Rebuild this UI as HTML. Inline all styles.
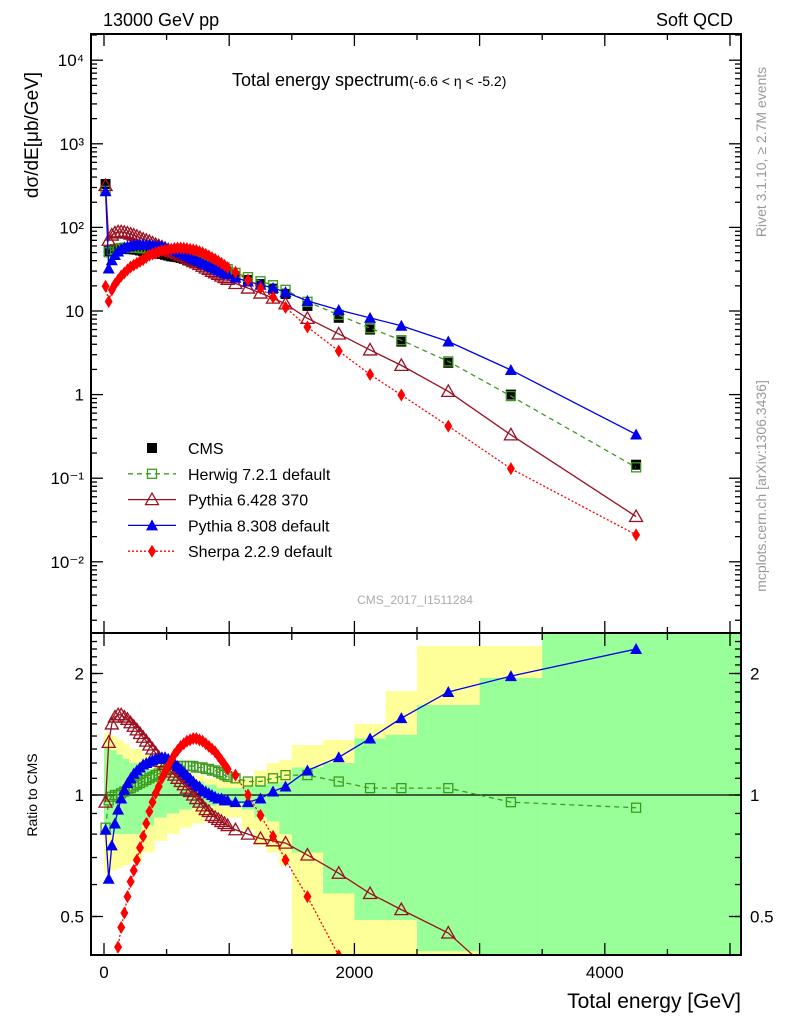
<!DOCTYPE html>
<html><head><meta charset="utf-8"><style>
html,body{margin:0;padding:0;background:#fff;overflow:hidden;width:786px;height:1024px;}
svg{display:block;font-family:"Liberation Sans",Arial,sans-serif;}
</style></head><body>
<svg id="chart" width="786" height="1024" viewBox="0 0 786 1024" xmlns="http://www.w3.org/2000/svg">
<defs>
<clipPath id="clipTop"><rect x="91" y="34" width="650" height="599"/></clipPath>
<clipPath id="clipRat"><rect x="91" y="634" width="650" height="321"/></clipPath>
</defs>
<g id="bands" clip-path="url(#clipRat)"></g>
<g id="topMarks" clip-path="url(#clipTop)"></g>
<g id="ratMarks" clip-path="url(#clipRat)"></g>
<g id="axes"></g>
<text x="103" y="26" font-size="18">13000 GeV pp</text>
<text x="733" y="26" font-size="18" text-anchor="end">Soft QCD</text>
<text x="232" y="86" font-size="18">Total energy spectrum<tspan font-size="14">(-6.6 &lt; η &lt; -5.2)</tspan></text>
<text transform="translate(38,135) rotate(-90)" font-size="19" text-anchor="middle">dσ/dE[μb/GeV]</text>
<text transform="translate(37,795) rotate(-90)" font-size="14" text-anchor="middle">Ratio to CMS</text>
<text x="741" y="1008" font-size="21" text-anchor="end">Total energy [GeV]</text>
<text transform="translate(766,152) rotate(-90)" font-size="14" fill="#999" text-anchor="middle">Rivet 3.1.10, ≥ 2.7M events</text>
<text transform="translate(766,486) rotate(-90)" font-size="14" fill="#999" text-anchor="middle">mcplots.cern.ch [arXiv:1306.3436]</text>
<text x="415" y="604" font-size="12" fill="#aaa" text-anchor="middle">CMS_2017_I1511284</text>
<g id="legend"></g>
</svg>
<script>
const energies = [12.5,37.5,62.5,87.5,112.5,137.5,162.5,187.5,212.5,237.5,262.5,287.5,312.5,337.5,362.5,387.5,412.5,437.5,462.5,487.5,512.5,537.5,562.5,587.5,612.5,637.5,662.5,687.5,712.5,737.5,762.5,787.5,812.5,837.5,862.5,887.5,912.5,937.5,962.5,987.5,1050,1150,1250,1350,1450,1625,1875,2125,2375,2750,3250,4250];
const cmsValues = [330,52,54,55,56,56,56,55.5,55,54.5,54,53,52,51.5,51,50,49,48.5,48,47,46,45,44.5,44,43,42,41,40,39,38.5,37.5,36.5,35.5,34.5,33.5,32.5,31.5,30.5,29.5,28.5,26,23.5,21,18.5,16,11.5,8.3,6.0,4.3,2.4,1.0,0.145];
const herwigRatio = [0.83,0.97,0.99,1.0,1.0,1.01,1.02,1.03,1.04,1.05,1.06,1.07,1.08,1.09,1.10,1.11,1.12,1.13,1.14,1.15,1.16,1.17,1.17,1.18,1.18,1.18,1.18,1.18,1.18,1.17,1.17,1.17,1.16,1.16,1.15,1.15,1.14,1.13,1.12,1.11,1.10,1.08,1.08,1.10,1.12,1.12,1.08,1.04,1.04,1.04,0.96,0.93];
const pythia6Ratio = [0.96,1.35,1.5,1.56,1.58,1.58,1.56,1.54,1.51,1.48,1.45,1.42,1.39,1.36,1.33,1.30,1.27,1.24,1.21,1.19,1.16,1.14,1.12,1.10,1.08,1.06,1.04,1.02,1.0,0.98,0.96,0.94,0.92,0.91,0.89,0.88,0.87,0.86,0.85,0.84,0.82,0.80,0.78,0.77,0.76,0.71,0.64,0.57,0.52,0.455,0.33,0.24];
const pythia8Ratio = [0.82,0.62,0.75,0.85,0.92,0.98,1.03,1.07,1.1,1.13,1.15,1.17,1.19,1.2,1.21,1.22,1.23,1.23,1.24,1.24,1.23,1.22,1.2,1.18,1.16,1.14,1.12,1.10,1.08,1.06,1.05,1.03,1.02,1.01,1.0,0.99,0.98,0.98,0.97,0.97,0.96,0.96,0.98,1.02,1.05,1.15,1.24,1.38,1.55,1.80,1.97,2.30];
const sherpaRatio = [0.06,0.25,0.33,0.38,0.42,0.47,0.51,0.56,0.61,0.65,0.69,0.74,0.79,0.85,0.91,0.96,1.01,1.05,1.10,1.14,1.18,1.22,1.26,1.29,1.32,1.34,1.36,1.37,1.38,1.38,1.37,1.36,1.34,1.32,1.30,1.28,1.25,1.22,1.19,1.16,1.12,1.0,0.89,0.79,0.69,0.56,0.40,0.29,0.23,0.175,0.13,0.145];
const bandEdges = [0,25,50,100,150,200,300,400,500,600,700,800,900,1000,1100,1200,1300,1400,1500,1750,2000,2250,2500,3000,3500,5100];
const yellowLo = [0.64,0.64,0.65,0.66,0.67,0.68,0.72,0.77,0.80,0.83,0.85,0.88,0.88,0.88,0.82,0.75,0.72,0.67,0.3,0.3,0.3,0.3,0.3,0.3,0.3];
const yellowHi = [1.42,1.42,1.40,1.37,1.34,1.30,1.26,1.22,1.18,1.15,1.12,1.10,1.09,1.09,1.10,1.15,1.20,1.22,1.33,1.37,1.5,1.81,2.34,2.34,3];
const greenLo = [0.82,0.82,0.80,0.80,0.80,0.80,0.84,0.88,0.90,0.92,0.93,0.94,0.95,0.95,0.92,0.88,0.86,0.80,0.72,0.57,0.49,0.49,0.41,0.3,0.3];
const greenHi = [1.31,1.31,1.29,1.26,1.23,1.20,1.16,1.12,1.11,1.10,1.08,1.06,1.04,1.04,1.05,1.06,1.07,1.08,1.17,1.2,1.38,1.41,1.67,1.95,3];
const topTickLabels = ["10⁻²","10⁻¹","1","10","10²","10³","10⁴"];
const topTickExps = [-2,-1,0,1,2,3,4];
const ratioTickValues = [0.5,1,2];
const xTickLabels = ["0","2000","4000"];
const xTickValues = [0,2000,4000];

const NS="http://www.w3.org/2000/svg";
function X(e){return 104+e*0.1252;}
function Y(v){return 311-(Math.log10(v)-1)*83.6;}
function R(r){return 795-Math.log2(r)*121.5;}
function mk(tag,attrs,parent){const el=document.createElementNS(NS,tag);for(const k in attrs)el.setAttribute(k,attrs[k]);parent.appendChild(el);return el;}

const bands=document.getElementById('bands');
for(let i=0;i<yellowLo.length;i++){
  const x0=X(bandEdges[i]),x1=X(bandEdges[i+1]);
  const y=mk('rect',{x:x0,y:R(yellowHi[i]),width:x1-x0+0.5,height:R(yellowLo[i])-R(yellowHi[i]),fill:'#ffff99'},bands);
  
  
  const g=mk('rect',{x:x0,y:R(greenHi[i]),width:x1-x0+0.5,height:R(greenLo[i])-R(greenHi[i]),fill:'#99ff99'},bands);
  
  
}

function marker(type,color,x,y,parent){
  let el;
  if(type==='sqf') el=mk('rect',{x:x-5,y:y-5,width:10,height:10,fill:color},parent);
  else if(type==='sqo') el=mk('rect',{x:x-4.5,y:y-4.5,width:9,height:9,fill:'none',stroke:color,'stroke-width':1.3},parent);
  else if(type==='tro') el=mk('polygon',{points:`${x},${y-6.5} ${x-6.5},${y+5} ${x+6.5},${y+5}`,fill:'none',stroke:color,'stroke-width':1.3},parent);
  else if(type==='trf') el=mk('polygon',{points:`${x},${y-6} ${x-6},${y+5} ${x+6},${y+5}`,fill:color},parent);
  else el=mk('polygon',{points:`${x},${y-6.5} ${x-4},${y} ${x},${y+6.5} ${x+4},${y}`,fill:color},parent);
  return el;
}
const series=[
  {name:'herwig',ratio:herwigRatio,color:'#3c9a1c',type:'sqo',dash:'5,4'},
  {name:'pythia6',ratio:pythia6Ratio,color:'#9b1020',type:'tro',dash:''},
  {name:'pythia8',ratio:pythia8Ratio,color:'#0000ee',type:'trf',dash:''},
  {name:'sherpa',ratio:sherpaRatio,color:'#ff0000',type:'dia',dash:'2,2'}
];
const topG=document.getElementById('topMarks'),ratG=document.getElementById('ratMarks');
cmsValues.forEach((v,i)=>{
  const m=marker('sqf','#000',X(energies[i]),Y(v),topG);
  
  
});
mk('line',{x1:91,x2:741,y1:R(1),y2:R(1),stroke:'#000','stroke-width':1.2},ratG);
series.forEach(s=>{
  const topPts=s.ratio.map((r,i)=>X(energies[i])+','+Y(r*cmsValues[i])).join(' ');
  const ratPts=s.ratio.map((r,i)=>X(energies[i])+','+R(r)).join(' ');
  const l1=mk('polyline',{points:topPts,fill:'none',stroke:s.color,'stroke-width':1.3,'stroke-dasharray':s.dash},topG);
  
  
  const l2=mk('polyline',{points:ratPts,fill:'none',stroke:s.color,'stroke-width':1.3,'stroke-dasharray':s.dash},ratG);
  
  
  s.ratio.forEach((r,i)=>{
    const a=marker(s.type,s.color,X(energies[i]),Y(r*cmsValues[i]),topG);
    
    
    const b=marker(s.type,s.color,X(energies[i]),R(r),ratG);
    
    
  });
});

const ax=document.getElementById('axes');
mk('rect',{x:91,y:34,width:650,height:599,fill:'none',stroke:'#000','stroke-width':2},ax);
mk('rect',{x:91,y:633,width:650,height:322,fill:'none',stroke:'#000','stroke-width':2},ax);
function tick(x1,y1,x2,y2){mk('line',{x1,y1,x2,y2,stroke:'#000','stroke-width':1.3},ax);}
topTickExps.forEach((e,i)=>{
  const y=Y(Math.pow(10,e));
  tick(91,y,103,y);tick(741,y,729,y);
  const t=mk('text',{x:84,y:y+6,'font-size':17,'text-anchor':'end'},ax);
  t.textContent=topTickLabels[i];
  
  
});
for(let e=-3;e<=4;e++)for(let k=2;k<=9;k++){
  const y=Y(k*Math.pow(10,e));
  if(y>34&&y<633){tick(91,y,97,y);tick(741,y,735,y);}
}
for(let r=0.4;r<=2.5;r+=0.1){
  const y=R(r);
  if(y>634&&y<955){tick(91,y,97,y);tick(741,y,735,y);}
}
ratioTickValues.forEach(r=>{
  const y=R(r);
  tick(91,y,103,y);tick(741,y,729,y);
  const t=mk('text',{x:84,y:y+6,'font-size':17,'text-anchor':'end'},ax);
  t.textContent=String(r);
  
  
  const t2=mk('text',{x:750,y:y+6,'font-size':17},ax);
  t2.textContent=String(r);
  
  
});
for(let e=0;e<=5000;e+=500){
  const x=X(e),L=(e%1000===0)?12:6;
  tick(x,955,x,955-L);tick(x,633,x,633-L);tick(x,634,x,634+L);tick(x,34,x,34+L);
}
xTickValues.forEach((v,i)=>{
  const t=mk('text',{x:X(v),y:978,'font-size':17,'text-anchor':'middle'},ax);
  t.textContent=xTickLabels[i];
  
  
});

const lg=document.getElementById('legend');
const legendNames=['CMS','Herwig 7.2.1 default','Pythia 6.428 370','Pythia 8.308 default','Sherpa 2.2.9 default'];
const legendTypes=['sqf','sqo','tro','trf','dia'];
const legendColors=['#000','#3c9a1c','#9b1020','#0000ee','#ff0000'];
const legendDash=[null,'5,4','','','2,2'];
legendNames.forEach((n,i)=>{
  const y=448+i*25.8;
  if(legendDash[i]!==null){mk('line',{x1:128,x2:176,y1:y,y2:y,stroke:legendColors[i],'stroke-width':1.3,'stroke-dasharray':legendDash[i]},lg);}
  marker(legendTypes[i],legendColors[i],152,y,lg);
  const t=mk('text',{x:188,y:y+6,'font-size':16},lg);
  t.textContent=n;
  
  
});
</script>
</body></html>
